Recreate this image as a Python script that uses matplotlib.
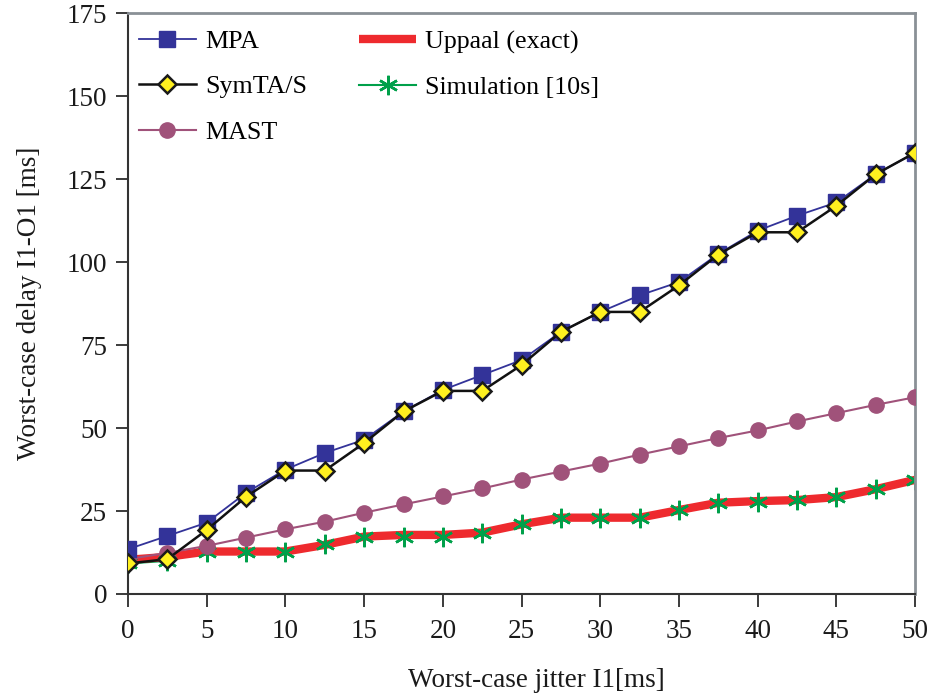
import matplotlib
matplotlib.use("Agg")
import matplotlib.pyplot as plt
from matplotlib.lines import Line2D

jitter = [0, 2.5, 5, 7.5, 10, 12.5, 15, 17.5, 20, 22.5, 25, 27.5, 30, 32.5, 35, 37.5, 40, 42.5, 45, 47.5, 50]
mpa = [13.5, 17.5, 21.5, 30.5, 37.5, 42.5, 46.5, 55, 61.5, 66, 70.5, 79, 85, 90, 94, 102.5, 109.5, 114, 118, 126.5, 133]
symtas = [9.2, 10.5, 19.3, 29.3, 37.2, 37.2, 45.5, 55, 61.2, 61.2, 69, 79, 85, 85, 93, 102.3, 109, 109, 117, 126.5, 133]
mast = [10.5, 12.4, 14.5, 17, 19.5, 21.8, 24.5, 27, 29.4, 31.8, 34.5, 36.9, 39.3, 42, 44.5, 47, 49.3, 52, 54.5, 57, 59.3]
uppaal = [10.3, 11.2, 12.8, 12.8, 12.8, 14.8, 17.3, 17.8, 17.8, 18.5, 21, 23, 23, 23, 25.3, 27.5, 28, 28.3, 29.2, 31.6, 34.4]
simulation = [9.2, 10, 12.8, 12.8, 12.8, 15, 17.3, 17.3, 17.3, 18.5, 21, 23, 23, 23, 25.3, 27.4, 27.6, 28.2, 29.2, 31.6, 34.4]

plt.rcParams['font.family'] = ['Liberation Serif', 'DejaVu Serif']

c_mpa, c_sym, c_mast, c_upp, c_sim = '#333399', '#111111', '#A0527A', '#EE2A2E', '#00A04A'

fig = plt.figure(figsize=(9.31, 6.98), dpi=100)
ax = fig.add_axes([0.1375, 0.149, 0.8455, 0.832])

ax.plot(jitter, mpa, color=c_mpa, lw=1.3, marker='s', ms=11.5, mec=c_mpa, mfc=c_mpa, zorder=4)
ax.plot(jitter, symtas, color=c_sym, lw=1.8, marker='D', ms=9, mec='#1a1a1a', mew=1.8, mfc='#FFF01F', zorder=5)
ax.plot(jitter, mast, color=c_mast, lw=1.5, marker='o', ms=11, mec=c_mast, mfc=c_mast, zorder=3)
# green line sits under the thick red one, its markers on top
ax.plot(jitter, simulation, color=c_sim, lw=1.5, zorder=1)
ax.plot(jitter, uppaal, color=c_upp, lw=6, solid_capstyle='butt', solid_joinstyle='round', zorder=1.5)
ax.plot(jitter, simulation, ls='none', marker=(6, 2, 0), ms=14, mew=1.8, mec=c_sim, zorder=2)

handles = [
    Line2D([], [], color=c_mpa, lw=1.3, marker='s', ms=11.5, mfc=c_mpa, mec=c_mpa),
    Line2D([], [], color=c_sym, lw=1.8, marker='D', ms=9, mfc='#FFF01F', mec='#1a1a1a', mew=1.8),
    Line2D([], [], color=c_mast, lw=1.5, marker='o', ms=11, mfc=c_mast, mec=c_mast),
    Line2D([], [], color=c_upp, lw=6, solid_capstyle='butt'),
    Line2D([], [], color=c_sim, lw=1.5, marker=(6, 2, 0), ms=14, mew=1.8, mec=c_sim),
]
labels = ['MPA', 'SymTA/S', 'MAST', 'Uppaal (exact)', 'Simulation [10s]']

ax.set_xlim(0, 50)
ax.set_ylim(0, 175)
ax.set_xticks(range(0, 51, 5))
ax.set_yticks(range(0, 176, 25))
ax.tick_params(direction='out', length=9, width=1.2, labelsize=19.5, colors='#1a1a1a')
ax.tick_params(axis='x', pad=9)
ax.tick_params(axis='y', pad=6)

for s in ['left', 'bottom']:
    ax.spines[s].set_color('#333333')
    ax.spines[s].set_linewidth(1.5)
for s in ['top', 'right']:
    ax.spines[s].set_color('#8a9096')
    ax.spines[s].set_linewidth(2)

ax.set_xlabel('Worst-case jitter I1[ms]', fontsize=19.5, color='#1a1a1a')
ax.xaxis.set_label_coords(0.519, -0.128)
ax.set_ylabel('Worst-case delay I1-O1 [ms]', fontsize=19.5, labelpad=18, color='#1a1a1a')

ax.legend(handles, labels, loc='upper left', ncol=2, frameon=False, fontsize=18.7, handlelength=2.2,
          columnspacing=2.0, labelspacing=0.85, borderaxespad=0.0, borderpad=0.6, handletextpad=0.35,
          bbox_to_anchor=(-0.006, 0.998))

fig.savefig('out.png', dpi=100)
